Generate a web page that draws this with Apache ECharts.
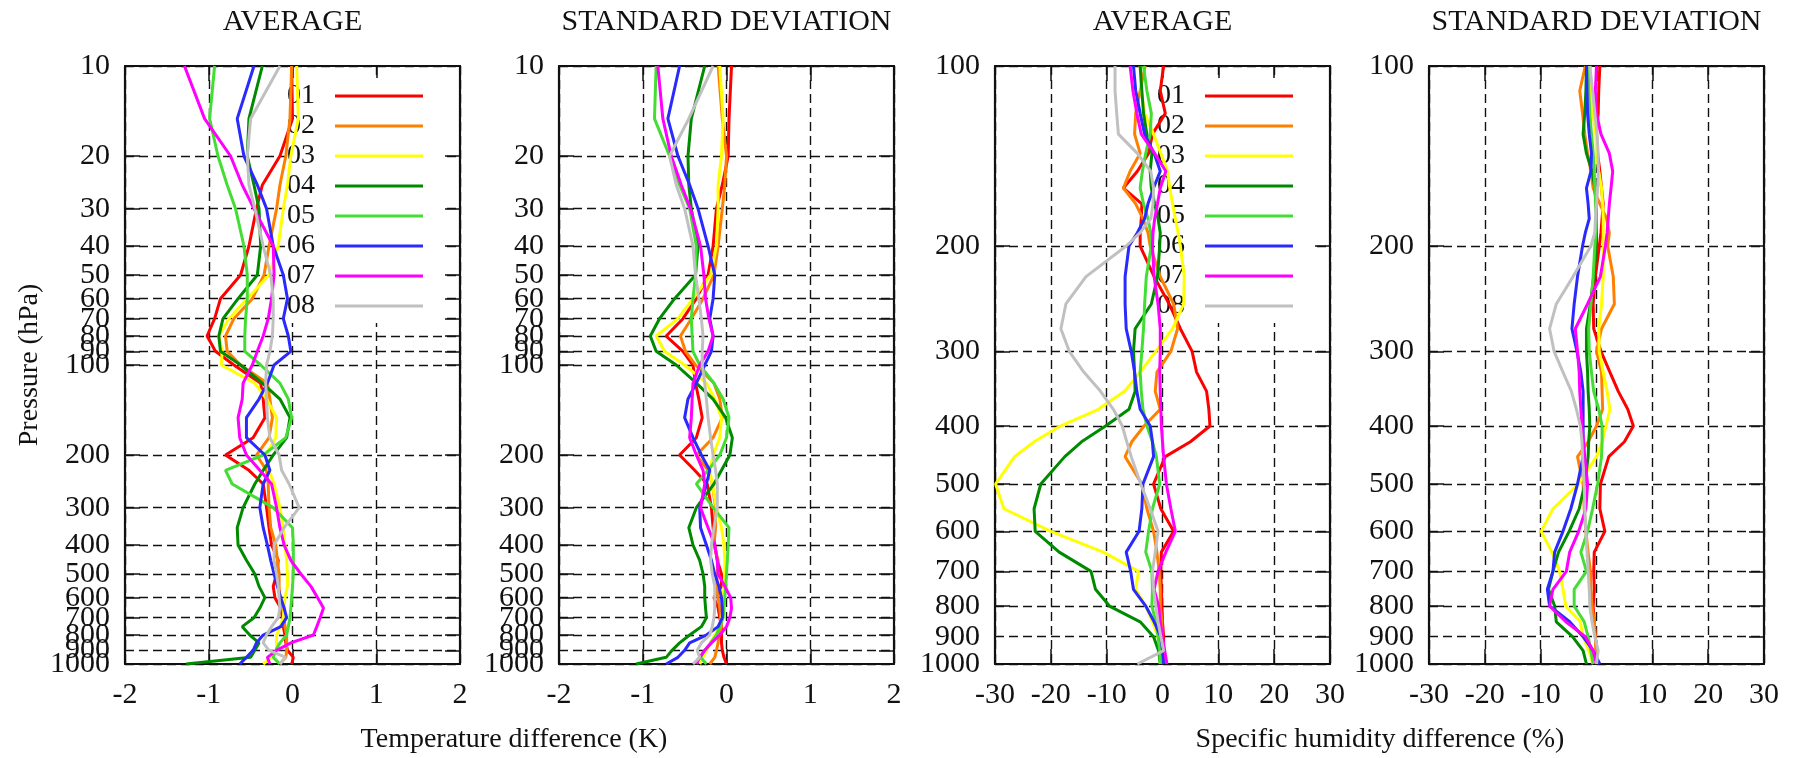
<!DOCTYPE html>
<html><head><meta charset="utf-8">
<script src="https://cdn.jsdelivr.net/npm/echarts@6/dist/echarts.min.js"></script>
<style>html,body{margin:0;padding:0;background:#fff}#c{width:1798px;height:758px}</style>
</head><body><div id="c"></div>
<script>
const SERIES_NAMES = ['01','02','03','04','05','06','07','08'];
const COLORS = ['#ff0000','#ff8000','#ffff00','#008a00','#44dd33','#2a2aff','#ff00ff','#c0c0c0'];
const PANEL_TITLES = ['AVERAGE','STANDARD DEVIATION','AVERAGE','STANDARD DEVIATION'];
const T_LEVELS = [10,15,20,25,30,40,50,60,70,80,90,100,115,130,150,175,200,225,250,300,350,400,450,500,550,600,650,700,750,800,850,900,950,1000];
const Q_LEVELS = [100,110,120,130,140,150,160,170,180,190,200,225,250,275,300,325,350,375,400,425,450,500,550,600,650,700,750,800,850,900,950,1000];
const T_TICKS = [10,20,30,40,50,60,70,80,90,100,200,300,400,500,600,700,800,900,1000];
const Q_TICKS = [100,200,300,400,500,600,700,800,900,1000];
const EXTRA_LABEL = [900];
const T_X_RANGE = [-2, 2, 1];
const Q_X_RANGE = [-30, 30, 10];

// Temperature difference, AVERAGE (K), one row per series 01..08, values at T_LEVELS
const T_AVG = [
 [-0.01,0.0,-0.15,-0.36,-0.43,-0.52,-0.62,-0.86,-0.93,-1.02,-0.92,-0.70, -0.38,-0.35,-0.33,-0.47,-0.80,-0.52,-0.35, -0.31,-0.28,-0.25,-0.17,-0.19,-0.23,-0.21,-0.14,-0.12,-0.11,-0.09,-0.08,-0.06,0.01,-0.01],
 [-0.01,-0.03,-0.08,-0.15,-0.19,-0.28,-0.34,-0.48,-0.70,-0.80,-0.78,-0.62, -0.30,-0.27,-0.24,-0.28,-0.43,-0.31,-0.29, -0.28,-0.26,-0.20,-0.18,-0.16,-0.16,-0.15,-0.12,-0.10,-0.09,-0.07,-0.07,-0.07,-0.08,-0.15],
 [0.05,0.07,-0.02,-0.06,-0.11,-0.17,-0.28,-0.54,-0.76,-0.88,-0.84,-0.85, -0.45,-0.31,-0.19,-0.20,-0.32,-0.28,-0.22, -0.15,-0.11,-0.09,-0.07,-0.06,-0.06,-0.09,-0.10,-0.11,-0.15,-0.19,-0.19,-0.19,-0.25,-0.35],
 [-0.36,-0.52,-0.54,-0.46,-0.40,-0.38,-0.42,-0.65,-0.83,-0.88,-0.86,-0.62, -0.36,-0.15,-0.03,-0.07,-0.23,-0.35,-0.45, -0.59,-0.66,-0.65,-0.55,-0.45,-0.40,-0.33,-0.39,-0.46,-0.60,-0.51,-0.40,-0.45,-0.50,-1.27],
 [-0.93,-0.99,-0.89,-0.78,-0.68,-0.58,-0.54,-0.54,-0.56,-0.57,-0.57,-0.38, -0.15,-0.05,-0.01,-0.08,-0.35,-0.80,-0.72, -0.23,0.0,0.01,0.01,0.01,0.0,-0.01,-0.02,-0.03,-0.05,-0.07,-0.15,-0.20,-0.23,-0.15],
 [-0.46,-0.66,-0.58,-0.42,-0.31,-0.23,-0.11,-0.06,-0.11,-0.05,-0.02,-0.22, -0.30,-0.40,-0.55,-0.55,-0.33,-0.27,-0.35, -0.39,-0.35,-0.30,-0.26,-0.22,-0.18,-0.14,-0.10,-0.07,-0.14,-0.35,-0.43,-0.47,-0.55,-0.63],
 [-1.29,-1.05,-0.74,-0.60,-0.46,-0.23,-0.22,-0.25,-0.29,-0.35,-0.42,-0.48, -0.59,-0.60,-0.65,-0.63,-0.55,-0.39,-0.25, -0.19,-0.15,-0.10,-0.02,0.10,0.22,0.30,0.37,0.33,0.29,0.25,-0.02,-0.19,-0.30,-0.27],
 [-0.15,-0.50,-0.54,-0.52,-0.45,-0.35,-0.26,-0.23,-0.23,-0.24,-0.27,-0.31, -0.32,-0.31,-0.30,-0.27,-0.16,-0.13,-0.04, 0.08,-0.10,-0.22,-0.22,-0.19,-0.17,-0.16,-0.15,-0.17,-0.25,-0.31,-0.35,-0.28,-0.08,-0.15]
];
// Temperature difference, STANDARD DEVIATION (K)
const T_STD = [
 [0.06,0.03,0.02,-0.05,-0.12,-0.16,-0.22,-0.36,-0.52,-0.72,-0.52,-0.40, -0.37,-0.33,-0.29,-0.36,-0.56,-0.38,-0.23, -0.18,-0.16,-0.14,-0.11,-0.06,-0.06,-0.15,-0.10,-0.08,-0.06,-0.06,-0.06,-0.05,-0.03,0.0],
 [-0.10,-0.05,0.0,-0.02,-0.05,-0.10,-0.15,-0.28,-0.42,-0.55,-0.49,-0.37, -0.15,-0.08,-0.05,-0.16,-0.36,-0.22,-0.17, -0.13,-0.13,-0.15,-0.10,-0.11,-0.12,-0.10,-0.08,-0.07,-0.06,-0.09,-0.10,-0.12,-0.14,-0.20],
 [-0.08,-0.04,-0.06,-0.10,-0.10,-0.12,-0.19,-0.40,-0.58,-0.84,-0.74,-0.50, -0.24,-0.14,-0.06,-0.08,-0.16,-0.20,-0.17, -0.12,-0.06,-0.03,-0.02,-0.02,-0.03,-0.04,-0.04,-0.06,-0.08,-0.14,-0.19,-0.24,-0.28,-0.32],
 [-0.26,-0.42,-0.46,-0.45,-0.42,-0.34,-0.37,-0.62,-0.80,-0.91,-0.84,-0.60, -0.36,-0.16,-0.01,0.07,0.04,-0.06,-0.15, -0.36,-0.45,-0.40,-0.32,-0.28,-0.26,-0.26,-0.25,-0.24,-0.30,-0.44,-0.56,-0.65,-0.72,-1.08],
 [-0.84,-0.86,-0.68,-0.56,-0.44,-0.36,-0.37,-0.40,-0.42,-0.41,-0.40,-0.32, -0.15,-0.04,0.03,0.0,-0.08,-0.22,-0.36, -0.16,0.03,0.02,0.01,0.0,-0.01,-0.02,-0.03,-0.04,-0.08,-0.12,-0.19,-0.26,-0.31,-0.24],
 [-0.56,-0.70,-0.58,-0.44,-0.34,-0.22,-0.14,-0.16,-0.20,-0.16,-0.18,-0.26, -0.36,-0.46,-0.50,-0.40,-0.30,-0.20,-0.24, -0.32,-0.31,-0.24,-0.18,-0.14,-0.09,-0.06,-0.05,-0.05,-0.10,-0.24,-0.44,-0.50,-0.58,-0.72],
 [-0.82,-0.76,-0.66,-0.54,-0.43,-0.31,-0.27,-0.25,-0.21,-0.16,-0.22,-0.32, -0.40,-0.41,-0.42,-0.44,-0.36,-0.28,-0.26, -0.31,-0.22,-0.14,-0.11,-0.10,-0.02,0.05,0.06,0.04,0.0,-0.08,-0.18,-0.26,-0.32,-0.36],
 [-0.16,-0.45,-0.68,-0.60,-0.50,-0.40,-0.37,-0.33,-0.30,-0.28,-0.29,-0.29, -0.26,-0.24,-0.22,-0.19,-0.16,-0.13,-0.11, -0.11,-0.15,-0.18,-0.19,-0.17,-0.14,-0.14,-0.14,-0.15,-0.17,-0.20,-0.30,-0.35,-0.32,-0.40]
];
// Specific humidity difference, AVERAGE (%), values at Q_LEVELS
const Q_AVG = [
 [0.2,-0.4,0.5,-1.8,-2.5,-4.5,-7.0,-3.7,-3.8,-4.0,-4.0, -1.5,1.2,3.2,5.3,6.1,7.9,8.3,8.5,5.0,0.5, -1.6,-0.3,2.0,-0.2,-0.3,-0.2,-0.1,0.0,0.2,0.2,0.1],
 [-3.1,-4.0,-4.8,-5.0,-4.0,-5.8,-7.0,-4.8,-3.5,-2.6,-2.2, -0.4,2.0,2.7,1.5,-1.0,-1.3,-0.4,-3.3,-5.5,-6.7, -3.7,-2.8,-1.6,-1.0,-0.6,-0.4,-0.4,-0.1,-0.1,-0.1,-0.1],
 [-4.0,-3.8,-3.2,-1.6,-0.3,0.9,1.3,1.8,2.3,2.8,3.2, 3.9,3.8,1.8,-1.2,-4.0,-6.8,-11.5,-18.3,-23.0,-26.5, -29.9,-28.4,-20.0,-10.6,-4.3,-4.8,-3.0,-1.8,-0.8,-0.5,-0.4],
 [-4.0,-3.7,-3.4,-2.8,-1.9,-2.2,-2.0,-1.4,-0.8,-0.4,-0.5, -0.9,-2.0,-4.9,-5.2,-5.0,-4.9,-6.0,-10.2,-14.5,-17.5, -21.8,-23.0,-22.8,-18.5,-12.8,-12.0,-9.5,-4.0,-1.6,-0.7,-0.4],
 [-3.4,-2.8,-2.0,-2.2,-3.0,-3.6,-4.0,-3.4,-2.6,-2.1,-2.0, -2.9,-3.2,-3.4,-3.7,-4.0,-3.8,-3.5,-2.8,-1.8,-1.1, -0.5,-1.8,-2.5,-3.0,-1.9,-1.8,-1.9,-1.2,-0.8,-0.5,-0.4],
 [-5.2,-4.8,-4.0,-3.2,-1.5,-0.4,-1.6,-2.6,-3.2,-4.5,-6.0, -6.7,-6.7,-6.5,-5.6,-5.0,-4.6,-4.0,-2.2,-1.8,-1.6, -3.5,-3.7,-4.2,-6.5,-5.7,-5.2,-3.0,-1.5,-0.3,0.0,0.2],
 [-5.8,-5.3,-4.6,-3.8,-1.4,0.6,-0.4,-0.9,-1.4,-1.7,-1.8, -1.5,-0.8,-0.4,-0.4,-0.5,-0.4,-0.3,-0.2,0.0,0.2, 0.7,1.5,2.3,0.6,-0.8,-1.5,-0.7,-0.4,0.0,0.4,0.8],
 [-8.5,-8.5,-8.2,-7.9,-4.5,-2.1,-1.6,-1.7,-2.1,-4.0,-6.5, -13.7,-17.3,-18.2,-16.7,-14.1,-11.1,-8.8,-7.2,-6.4,-5.6, -3.9,-2.2,-0.8,-1.3,-1.8,-1.6,-1.2,-0.8,-0.3,0.2,-4.5]
];
// Specific humidity difference, STANDARD DEVIATION (%)
const Q_STD = [
 [0.6,0.4,0.3,0.0,0.2,0.6,0.9,1.2,1.0,0.8,0.5, -0.2,-0.6,-0.5,0.8,2.4,3.9,5.6,6.6,5.0,2.2, 0.7,0.6,1.5,-0.4,-0.5,-0.4,-0.6,-0.4,-0.2,0.0,0.0],
 [-2.0,-3.0,-2.5,-2.1,-1.6,-1.0,-0.6,0.6,1.8,2.3,2.0, 3.0,3.2,0.9,0.0,0.9,1.0,1.1,0.0,-1.5,-3.4, -2.4,-2.2,-1.9,-1.5,-1.1,-1.0,-0.8,-0.4,-0.2,-0.1,0.0],
 [-1.2,-1.0,-0.7,-0.1,0.0,0.4,0.9,1.1,1.2,1.2,1.2, 1.2,0.9,0.4,0.5,1.2,1.9,2.4,1.7,1.0,0.0, -3.2,-7.8,-9.9,-8.0,-6.6,-6.0,-5.5,-2.9,-2.4,-1.4,-0.6],
 [-1.8,-1.9,-2.1,-2.4,-1.8,-0.8,-0.3,-0.1,0.0,0.0,0.0, -0.5,-1.1,-1.8,-1.8,-1.6,-1.5,-1.3,-1.2,-1.4,-1.5, -2.1,-3.1,-4.9,-6.8,-7.8,-8.6,-7.5,-7.2,-4.3,-2.4,-1.8],
 [-1.5,-1.4,-1.2,-0.9,-0.6,-0.4,-0.3,-0.1,0.0,-0.1,-0.3, -0.6,-1.0,-1.4,-1.3,-0.9,-0.5,0.4,1.0,1.0,0.9, 0.2,-0.7,-1.6,-2.8,-1.8,-4.0,-4.0,-2.2,-1.5,-1.0,-0.6],
 [-1.8,-1.7,-1.6,-1.3,-0.9,-1.0,-1.8,-1.5,-1.3,-2.0,-2.5, -3.4,-4.0,-4.4,-3.5,-2.8,-2.4,-2.4,-2.4,-2.4,-2.4, -3.4,-4.6,-6.0,-7.5,-7.8,-8.8,-8.4,-4.8,-2.4,-0.6,0.6],
 [0.0,-0.2,0.0,0.8,2.3,2.9,2.6,2.3,2.1,1.9,1.6, 0.7,-1.6,-3.8,-3.4,-3.1,-3.0,-2.8,-2.6,-2.3,-2.1, -1.6,-1.9,-3.2,-4.8,-5.4,-7.8,-8.4,-5.5,-2.0,-0.6,0.0],
 [-1.2,-0.7,-0.3,0.1,0.3,0.3,0.2,0.0,-0.2,-0.3,-1.0, -4.2,-7.2,-8.4,-7.6,-6.0,-4.5,-3.6,-2.9,-2.6,-2.5, -2.2,-2.1,-1.9,-1.7,-1.5,-1.3,-1.2,-0.8,-0.3,0.3,0.0]
];

const FONT = 'Liberation Serif';
const INK = '#111';
const GRID_LEFTS = [125, 559, 995, 1429];
const PANELS = [
  {data: T_AVG, levels: T_LEVELS, ticks: T_TICKS, yr: [10, 1000], xr: T_X_RANGE},
  {data: T_STD, levels: T_LEVELS, ticks: T_TICKS, yr: [10, 1000], xr: T_X_RANGE},
  {data: Q_AVG, levels: Q_LEVELS, ticks: Q_TICKS, yr: [100, 1000], xr: Q_X_RANGE},
  {data: Q_STD, levels: Q_LEVELS, ticks: Q_TICKS, yr: [100, 1000], xr: Q_X_RANGE}
];

const grid = [], xAxis = [], yAxis = [], series = [];
const tickStyle = {show: true, inside: true, length: 15, lineStyle: {color: INK, width: 1.5}};
const lineStyleAxis = {show: true, onZero: false, lineStyle: {color: INK, width: 2.2}};
const dashStyle = {show: true, lineStyle: {color: INK, width: 1.4, type: [9, 5]}};
const yLabelBase = {margin: 15, fontFamily: FONT, fontSize: 30, color: INK,
  showMinLabel: true, showMaxLabel: true, hideOverlap: false, formatter: v => String(Math.round(v))};
PANELS.forEach((P, gi) => {
  grid.push({left: GRID_LEFTS[gi], top: 66, width: 335, height: 598, show: false});
  const xBase = {gridIndex: gi, type: 'value', min: P.xr[0], max: P.xr[1], interval: P.xr[2]};
  const xIdx = xAxis.length;
  xAxis.push(Object.assign({}, xBase, {position: 'bottom', axisLine: lineStyleAxis, axisTick: tickStyle,
    axisLabel: {margin: 16, fontFamily: FONT, fontSize: 30, color: INK, showMinLabel: true, showMaxLabel: true},
    splitLine: dashStyle}));
  xAxis.push(Object.assign({}, xBase, {position: 'top', axisLine: lineStyleAxis, axisTick: tickStyle,
    axisLabel: {show: false}, splitLine: {show: false}}));
  const yBase = {gridIndex: gi, type: 'log', logBase: 10, min: P.yr[0], max: P.yr[1], inverse: true};
  const yIdx = yAxis.length;
  yAxis.push(Object.assign({}, yBase, {position: 'left', axisLine: lineStyleAxis,
    axisTick: Object.assign({}, tickStyle, {customValues: P.ticks}),
    axisLabel: Object.assign({}, yLabelBase, {customValues: P.ticks}),
    splitLine: dashStyle, minorTick: {show: false}}));
  yAxis.push(Object.assign({}, yBase, {position: 'right', axisLine: lineStyleAxis,
    axisTick: Object.assign({}, tickStyle, {customValues: P.ticks}),
    axisLabel: {show: false}, splitLine: {show: false}}));
  // extra label-only axis so the crowded 900 label is kept next to 1000
  yAxis.push(Object.assign({}, yBase, {position: 'left', axisLine: {show: false, onZero: false},
    axisTick: {show: false, customValues: EXTRA_LABEL},
    axisLabel: Object.assign({}, yLabelBase, {customValues: EXTRA_LABEL}),
    splitLine: {show: false}}));
  SERIES_NAMES.forEach((name, i) => {
    series.push({
      name: name, type: 'line', xAxisIndex: xIdx, yAxisIndex: yIdx,
      data: P.levels.map((p, k) => [P.data[i][k], p]),
      symbol: 'none', showSymbol: false, clip: true, z: 3,
      lineStyle: {width: 3, color: COLORS[i]}, itemStyle: {color: COLORS[i]}
    });
  });
});

function legendAt(left) {
  return {left: left, top: 78, orient: 'vertical', data: SERIES_NAMES, icon: 'rect',
    itemWidth: 88, itemHeight: 3, itemGap: 2, align: 'right', selectedMode: false,
    backgroundColor: '#fff', padding: [4, 19, 3, 2], z: 1,
    textStyle: {fontFamily: FONT, fontSize: 28, color: INK, padding: [0, 15, 0, 0]}};
}

const CENTERS = GRID_LEFTS.map(l => l + 167.5);
const graphic = PANEL_TITLES.map((t, i) => ({type: 'text', x: CENTERS[i], y: 22,
  style: {text: t, font: '30px "Liberation Serif"', fill: INK, align: 'center', verticalAlign: 'middle',
    textAlign: 'center', textVerticalAlign: 'middle'}}));
graphic.push({type: 'text', x: 514, y: 740, style: {text: 'Temperature difference (K)', font: '28px "Liberation Serif"', fill: INK, align: 'center', verticalAlign: 'middle', textAlign: 'center', textVerticalAlign: 'middle'}});
graphic.push({type: 'text', x: 1380, y: 740, style: {text: 'Specific humidity difference (%)', font: '28px "Liberation Serif"', fill: INK, align: 'center', verticalAlign: 'middle', textAlign: 'center', textVerticalAlign: 'middle'}});
graphic.push({type: 'text', x: 30, y: 365, rotation: Math.PI / 2, style: {text: 'Pressure (hPa)', font: '28px "Liberation Serif"', fill: INK, align: 'center', verticalAlign: 'middle', textAlign: 'center', textVerticalAlign: 'middle'}});

const chart = echarts.init(document.getElementById('c'), null, {renderer: 'canvas'});
chart.setOption({
  animation: false,
  backgroundColor: '#fff',
  grid: grid, xAxis: xAxis, yAxis: yAxis, series: series,
  legend: [legendAt(285), legendAt(1155)],
  graphic: graphic
});
</script></body></html>
